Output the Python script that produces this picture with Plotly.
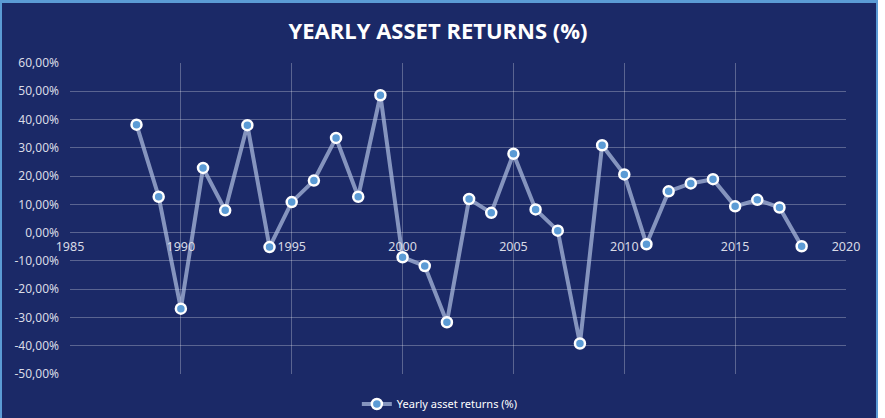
import plotly.graph_objects as go

years = list(range(1988, 2019))
returns = [38.2, 12.7, -26.9, 22.9, 7.9, 38.0, -5.1, 10.8, 18.4, 33.5, 12.7, 48.6,
           -8.7, -11.8, -31.7, 11.9, 7.0, 27.9, 8.2, 0.7, -39.2, 30.9, 20.6,
           -4.1, 14.6, 17.4, 18.9, 9.3, 11.6, 8.9, -4.8]
series_name = "Yearly asset returns (%)"
title_text = "YEARLY ASSET RETURNS (%)"
x_ticks = [1985, 1990, 1995, 2000, 2005, 2010, 2015, 2020]
y_ticks = [60, 50, 40, 30, 20, 10, 0, -10, -20, -30, -40, -50]
y_ticktext = [f"{v:.2f}".replace(".", ",") + "%" for v in y_ticks]

NAVY = "#1b2967"
BORDER = "#5b9bd5"
GRID = "rgba(255,255,255,0.28)"
TXT = "#d9dbe6"

fig = go.Figure()
fig.add_trace(go.Scatter(
    x=years, y=returns, mode="lines+markers", name=series_name,
    line=dict(color="rgba(175,190,225,0.72)", width=4),
    marker=dict(size=10, color="#5b9bd5", line=dict(color="white", width=2.5)),
))

W, H = 885, 418
L, R, T, B = 70, 846, 63, 374
pw, ph = R - L, B - T
def px(p):
    return (p - L) / pw
def py(q):
    return (B - q) / ph

shapes = [
    dict(type="rect", xref="paper", yref="paper", x0=px(0), x1=px(W), y0=py(H), y1=py(0),
         fillcolor="white", line_width=0, layer="below"),
    dict(type="rect", xref="paper", yref="paper", x0=px(0), x1=px(878), y0=py(H), y1=py(0),
         fillcolor=BORDER, line_width=0, layer="below"),
    dict(type="rect", xref="paper", yref="paper", x0=px(2), x1=px(876), y0=py(H), y1=py(3),
         fillcolor=NAVY, line_width=0, layer="below"),
]

fig.update_layout(
    width=W, height=H,
    margin=dict(l=L, r=W - R, t=T, b=H - B, autoexpand=False),
    paper_bgcolor=NAVY, plot_bgcolor="rgba(0,0,0,0)",
    shapes=shapes,
    title=dict(text="<b>" + title_text + "</b>", x=0.495, xref="container", xanchor="center",
               y=1 - 31 / H, yref="container", yanchor="middle",
               font=dict(family="Open Sans", size=22, color="white")),
    font=dict(family="Noto Sans", color=TXT),
    xaxis=dict(range=[1985, 2020], tickvals=x_ticks, ticktext=[str(t) for t in x_ticks],
               anchor="free", position=50 / 110, ticklabelstandoff=5,
               showgrid=True, gridcolor=GRID, gridwidth=1, zeroline=False, showline=False,
               ticks="", tickfont=dict(size=12.5, color=TXT)),
    yaxis=dict(range=[-50, 60], tickvals=y_ticks, ticktext=y_ticktext, ticklabelstandoff=10,
               showgrid=True, gridcolor=GRID, gridwidth=1, zeroline=False, showline=False,
               ticks="", tickfont=dict(size=12, color=TXT)),
    showlegend=True,
    legend=dict(orientation="h", x=0.497, xref="container", y=1 - 404 / H, yref="container",
                xanchor="center", yanchor="middle",
                bgcolor="rgba(0,0,0,0)", font=dict(size=11, color="white")),
)

fig.write_html("out.html")
